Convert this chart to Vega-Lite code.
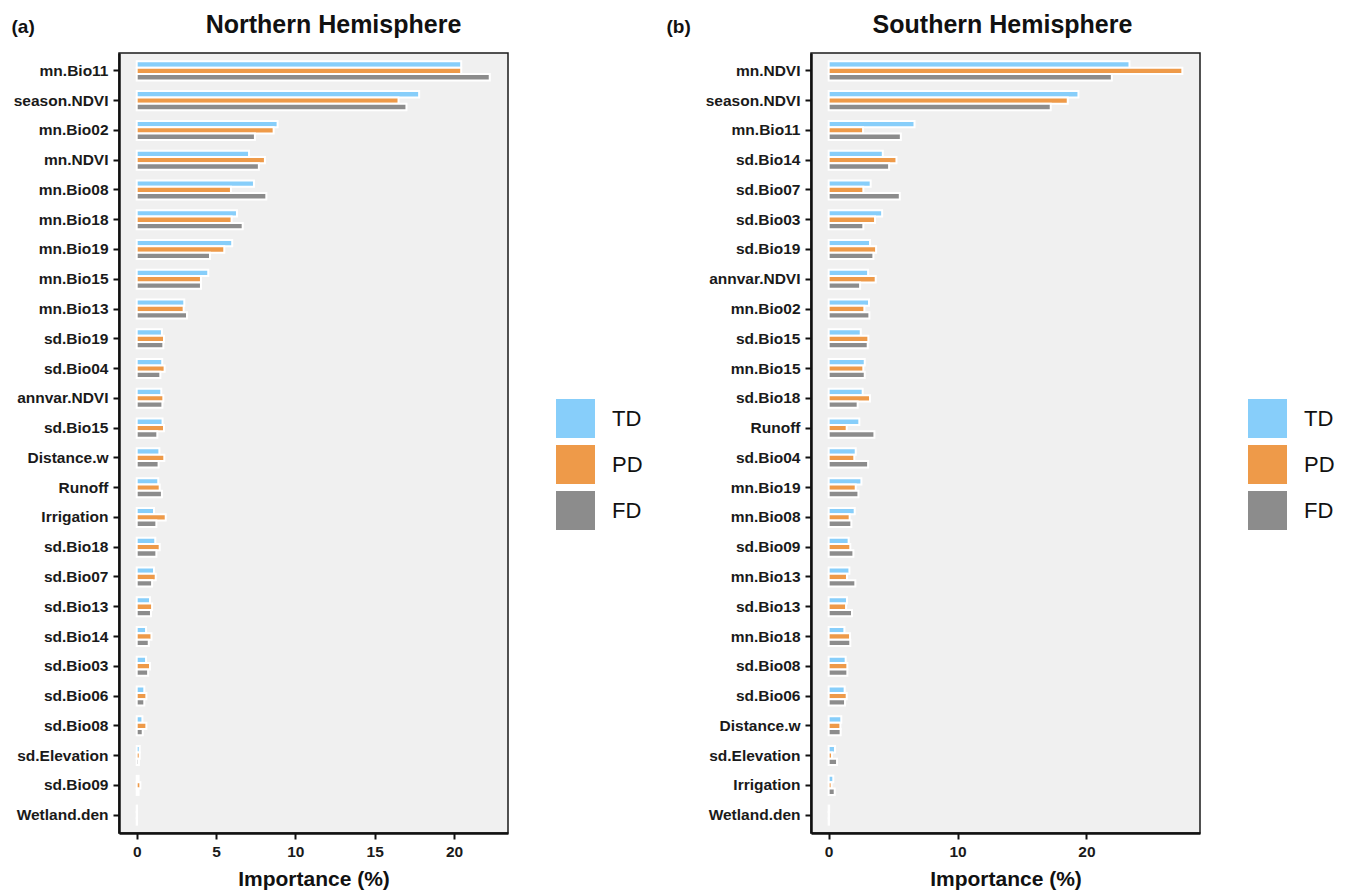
{
  "$schema": "https://vega.github.io/schema/vega-lite/v6.json",
  "autosize": {"type": "pad"},
  "padding": {"left": 10, "top": 12, "right": 0, "bottom": 0},
  "background": "white",
  "config": {
    "font": "Liberation Sans",
    "view": {"stroke": "#1a1a1a", "strokeWidth": 1.5, "fill": "#f0f0f0"},
    "axis": {"grid": false, "domainColor": "#111111", "domainWidth": 2.5, "tickColor": "#111111", "tickWidth": 2, "tickSize": 6, "labelColor": "#1a1a1a", "labelFontWeight": "bold", "labelFontSize": 15.5, "labelFont": "Liberation Sans", "titleFont": "Liberation Sans", "titleColor": "#111111"},
    "title": {"fontSize": 25, "fontWeight": "bold", "anchor": "middle", "frame": "group", "baseline": "alphabetic", "offset": -21, "color": "#111111", "font": "Liberation Sans"},
    "legend": {"labelFont": "Liberation Sans"}
  },
  "datasets": {
    "north": [
      {"v":"mn.Bio11","g":"TD","i":20.45},{"v":"mn.Bio11","g":"PD","i":20.45},{"v":"mn.Bio11","g":"FD","i":22.25},
      {"v":"season.NDVI","g":"TD","i":17.8},{"v":"season.NDVI","g":"PD","i":16.5},{"v":"season.NDVI","g":"FD","i":17.0},
      {"v":"mn.Bio02","g":"TD","i":8.88},{"v":"mn.Bio02","g":"PD","i":8.63},{"v":"mn.Bio02","g":"FD","i":7.45},
      {"v":"mn.NDVI","g":"TD","i":7.08},{"v":"mn.NDVI","g":"PD","i":8.08},{"v":"mn.NDVI","g":"FD","i":7.7},
      {"v":"mn.Bio08","g":"TD","i":7.39},{"v":"mn.Bio08","g":"PD","i":5.94},{"v":"mn.Bio08","g":"FD","i":8.17},
      {"v":"mn.Bio18","g":"TD","i":6.32},{"v":"mn.Bio18","g":"PD","i":5.98},{"v":"mn.Bio18","g":"FD","i":6.68},
      {"v":"mn.Bio19","g":"TD","i":6.02},{"v":"mn.Bio19","g":"PD","i":5.52},{"v":"mn.Bio19","g":"FD","i":4.62},
      {"v":"mn.Bio15","g":"TD","i":4.51},{"v":"mn.Bio15","g":"PD","i":4.05},{"v":"mn.Bio15","g":"FD","i":4.05},
      {"v":"mn.Bio13","g":"TD","i":3.0},{"v":"mn.Bio13","g":"PD","i":2.96},{"v":"mn.Bio13","g":"FD","i":3.17},
      {"v":"sd.Bio19","g":"TD","i":1.59},{"v":"sd.Bio19","g":"PD","i":1.72},{"v":"sd.Bio19","g":"FD","i":1.68},
      {"v":"sd.Bio04","g":"TD","i":1.61},{"v":"sd.Bio04","g":"PD","i":1.76},{"v":"sd.Bio04","g":"FD","i":1.49},
      {"v":"annvar.NDVI","g":"TD","i":1.55},{"v":"annvar.NDVI","g":"PD","i":1.68},{"v":"annvar.NDVI","g":"FD","i":1.62},
      {"v":"sd.Bio15","g":"TD","i":1.63},{"v":"sd.Bio15","g":"PD","i":1.72},{"v":"sd.Bio15","g":"FD","i":1.30},
      {"v":"Distance.w","g":"TD","i":1.43},{"v":"Distance.w","g":"PD","i":1.74},{"v":"Distance.w","g":"FD","i":1.38},
      {"v":"Runoff","g":"TD","i":1.36},{"v":"Runoff","g":"PD","i":1.45},{"v":"Runoff","g":"FD","i":1.59},
      {"v":"Irrigation","g":"TD","i":1.09},{"v":"Irrigation","g":"PD","i":1.83},{"v":"Irrigation","g":"FD","i":1.24},
      {"v":"sd.Bio18","g":"TD","i":1.17},{"v":"sd.Bio18","g":"PD","i":1.45},{"v":"sd.Bio18","g":"FD","i":1.24},
      {"v":"sd.Bio07","g":"TD","i":1.09},{"v":"sd.Bio07","g":"PD","i":1.2},{"v":"sd.Bio07","g":"FD","i":0.97},
      {"v":"sd.Bio13","g":"TD","i":0.84},{"v":"sd.Bio13","g":"PD","i":0.97},{"v":"sd.Bio13","g":"FD","i":0.9},
      {"v":"sd.Bio14","g":"TD","i":0.59},{"v":"sd.Bio14","g":"PD","i":0.93},{"v":"sd.Bio14","g":"FD","i":0.76},
      {"v":"sd.Bio03","g":"TD","i":0.59},{"v":"sd.Bio03","g":"PD","i":0.84},{"v":"sd.Bio03","g":"FD","i":0.72},
      {"v":"sd.Bio06","g":"TD","i":0.48},{"v":"sd.Bio06","g":"PD","i":0.61},{"v":"sd.Bio06","g":"FD","i":0.48},
      {"v":"sd.Bio08","g":"TD","i":0.36},{"v":"sd.Bio08","g":"PD","i":0.61},{"v":"sd.Bio08","g":"FD","i":0.38},
      {"v":"sd.Elevation","g":"TD","i":0.19},{"v":"sd.Elevation","g":"PD","i":0.19},{"v":"sd.Elevation","g":"FD","i":0.14},
      {"v":"sd.Bio09","g":"TD","i":0.12},{"v":"sd.Bio09","g":"PD","i":0.23},{"v":"sd.Bio09","g":"FD","i":0.12},
      {"v":"Wetland.den","g":"TD","i":0.02},{"v":"Wetland.den","g":"PD","i":0.02},{"v":"Wetland.den","g":"FD","i":0.02}
    ],
    "south": [
      {"v":"mn.NDVI","g":"TD","i":23.34},{"v":"mn.NDVI","g":"PD","i":27.44},{"v":"mn.NDVI","g":"FD","i":21.97},
      {"v":"season.NDVI","g":"TD","i":19.38},{"v":"season.NDVI","g":"PD","i":18.55},{"v":"season.NDVI","g":"FD","i":17.23},
      {"v":"mn.Bio11","g":"TD","i":6.66},{"v":"mn.Bio11","g":"PD","i":2.67},{"v":"mn.Bio11","g":"FD","i":5.6},
      {"v":"sd.Bio14","g":"TD","i":4.2},{"v":"sd.Bio14","g":"PD","i":5.26},{"v":"sd.Bio14","g":"FD","i":4.69},
      {"v":"sd.Bio07","g":"TD","i":3.26},{"v":"sd.Bio07","g":"PD","i":2.69},{"v":"sd.Bio07","g":"FD","i":5.52},
      {"v":"sd.Bio03","g":"TD","i":4.15},{"v":"sd.Bio03","g":"PD","i":3.6},{"v":"sd.Bio03","g":"FD","i":2.69},
      {"v":"sd.Bio19","g":"TD","i":3.21},{"v":"sd.Bio19","g":"PD","i":3.68},{"v":"sd.Bio19","g":"FD","i":3.47},
      {"v":"annvar.NDVI","g":"TD","i":3.06},{"v":"annvar.NDVI","g":"PD","i":3.65},{"v":"annvar.NDVI","g":"FD","i":2.44},
      {"v":"mn.Bio02","g":"TD","i":3.13},{"v":"mn.Bio02","g":"PD","i":2.77},{"v":"mn.Bio02","g":"FD","i":3.16},
      {"v":"sd.Bio15","g":"TD","i":2.49},{"v":"sd.Bio15","g":"PD","i":3.08},{"v":"sd.Bio15","g":"FD","i":3.03},
      {"v":"mn.Bio15","g":"TD","i":2.8},{"v":"mn.Bio15","g":"PD","i":2.69},{"v":"mn.Bio15","g":"FD","i":2.8},
      {"v":"sd.Bio18","g":"TD","i":2.64},{"v":"sd.Bio18","g":"PD","i":3.21},{"v":"sd.Bio18","g":"FD","i":2.25},
      {"v":"Runoff","g":"TD","i":2.38},{"v":"Runoff","g":"PD","i":1.4},{"v":"Runoff","g":"FD","i":3.55},
      {"v":"sd.Bio04","g":"TD","i":2.1},{"v":"sd.Bio04","g":"PD","i":1.99},{"v":"sd.Bio04","g":"FD","i":3.06},
      {"v":"mn.Bio19","g":"TD","i":2.54},{"v":"mn.Bio19","g":"PD","i":2.1},{"v":"mn.Bio19","g":"FD","i":2.31},
      {"v":"mn.Bio08","g":"TD","i":2.02},{"v":"mn.Bio08","g":"PD","i":1.63},{"v":"mn.Bio08","g":"FD","i":1.76},
      {"v":"sd.Bio09","g":"TD","i":1.55},{"v":"sd.Bio09","g":"PD","i":1.68},{"v":"sd.Bio09","g":"FD","i":1.92},
      {"v":"mn.Bio13","g":"TD","i":1.61},{"v":"mn.Bio13","g":"PD","i":1.42},{"v":"mn.Bio13","g":"FD","i":2.07},
      {"v":"sd.Bio13","g":"TD","i":1.42},{"v":"sd.Bio13","g":"PD","i":1.35},{"v":"sd.Bio13","g":"FD","i":1.81},
      {"v":"mn.Bio18","g":"TD","i":1.22},{"v":"mn.Bio18","g":"PD","i":1.66},{"v":"mn.Bio18","g":"FD","i":1.68},
      {"v":"sd.Bio08","g":"TD","i":1.32},{"v":"sd.Bio08","g":"PD","i":1.45},{"v":"sd.Bio08","g":"FD","i":1.45},
      {"v":"sd.Bio06","g":"TD","i":1.24},{"v":"sd.Bio06","g":"PD","i":1.4},{"v":"sd.Bio06","g":"FD","i":1.27},
      {"v":"Distance.w","g":"TD","i":0.98},{"v":"Distance.w","g":"PD","i":0.91},{"v":"Distance.w","g":"FD","i":0.93},
      {"v":"sd.Elevation","g":"TD","i":0.49},{"v":"sd.Elevation","g":"PD","i":0.26},{"v":"sd.Elevation","g":"FD","i":0.65},
      {"v":"Irrigation","g":"TD","i":0.36},{"v":"Irrigation","g":"PD","i":0.23},{"v":"Irrigation","g":"FD","i":0.47},
      {"v":"Wetland.den","g":"TD","i":0.04},{"v":"Wetland.den","g":"PD","i":0.03},{"v":"Wetland.den","g":"FD","i":0.03}
    ]
  },
  "spacing": 303,
  "bounds": "flush",
  "resolve": {"scale": {"color": "independent", "x": "independent", "y": "independent", "yOffset": "independent"}, "legend": {"color": "independent"}},
  "hconcat": [
    {
      "width": 389, "height": 780,
      "data": {"name": "north"},
      "title": {"text": "Northern Hemisphere", "dx": 20},
      "mark": {"type": "bar", "stroke": "white", "strokeWidth": 2},
      "encoding": {
        "y": {"field": "v", "type": "nominal",
          "sort": ["mn.Bio11","season.NDVI","mn.Bio02","mn.NDVI","mn.Bio08","mn.Bio18","mn.Bio19","mn.Bio15","mn.Bio13","sd.Bio19","sd.Bio04","annvar.NDVI","sd.Bio15","Distance.w","Runoff","Irrigation","sd.Bio18","sd.Bio07","sd.Bio13","sd.Bio14","sd.Bio03","sd.Bio06","sd.Bio08","sd.Elevation","sd.Bio09","Wetland.den"],
          "scale": {"paddingInner": 0, "paddingOuter": 0.1},
          "axis": {"title": "(a)", "titleAngle": 0, "titleX": -108, "titleY": -21, "titleAlign": "left", "titleBaseline": "alphabetic", "titleFontSize": 19, "titleFontWeight": "bold", "labelPadding": 5}},
        "yOffset": {"field": "g", "type": "nominal", "sort": ["TD","PD","FD"], "scale": {"paddingInner": 0, "paddingOuter": 0.845}},
        "x": {"field": "i", "type": "quantitative",
          "scale": {"domain": [-1.115, 23.4], "nice": false, "zero": false},
          "axis": {"values": [0,5,10,15,20], "title": "Importance (%)", "titleFontSize": 21, "titleFontWeight": "bold", "titlePadding": 9, "labelPadding": 5}},
        "x2": {"datum": 0},
        "color": {"field": "g", "type": "nominal", "sort": ["TD","PD","FD"],
          "scale": {"domain": ["TD","PD","FD"], "range": ["#87CEFA","#EE9A49","#8C8C8C"]},
          "legend": {"title": null, "orient": "none", "legendX": 437, "legendY": 346, "symbolType": "square", "symbolSize": 1521, "symbolStrokeWidth": 0, "symbolOpacity": 1, "labelFontSize": 22, "labelFontWeight": "normal", "labelColor": "#111111", "labelOffset": 17, "rowPadding": 7}}
      }
    },
    {
      "width": 389, "height": 780,
      "data": {"name": "south"},
      "title": {"text": "Southern Hemisphere", "dx": -3},
      "mark": {"type": "bar", "stroke": "white", "strokeWidth": 2},
      "encoding": {
        "y": {"field": "v", "type": "nominal",
          "sort": ["mn.NDVI","season.NDVI","mn.Bio11","sd.Bio14","sd.Bio07","sd.Bio03","sd.Bio19","annvar.NDVI","mn.Bio02","sd.Bio15","mn.Bio15","sd.Bio18","Runoff","sd.Bio04","mn.Bio19","mn.Bio08","sd.Bio09","mn.Bio13","sd.Bio13","mn.Bio18","sd.Bio08","sd.Bio06","Distance.w","sd.Elevation","Irrigation","Wetland.den"],
          "scale": {"paddingInner": 0, "paddingOuter": 0.1},
          "axis": {"title": "(b)", "titleAngle": 0, "titleX": -145, "titleY": -21, "titleAlign": "left", "titleBaseline": "alphabetic", "titleFontSize": 19, "titleFontWeight": "bold", "labelPadding": 5}},
        "yOffset": {"field": "g", "type": "nominal", "sort": ["TD","PD","FD"], "scale": {"paddingInner": 0, "paddingOuter": 0.845}},
        "x": {"field": "i", "type": "quantitative",
          "scale": {"domain": [-1.37, 28.81], "nice": false, "zero": false},
          "axis": {"values": [0,10,20], "title": "Importance (%)", "titleFontSize": 21, "titleFontWeight": "bold", "titlePadding": 9, "labelPadding": 5}},
        "x2": {"datum": 0},
        "color": {"field": "g", "type": "nominal", "sort": ["TD","PD","FD"],
          "scale": {"domain": ["TD","PD","FD"], "range": ["#87CEFA","#EE9A49","#8C8C8C"]},
          "legend": {"title": null, "orient": "none", "legendX": 437, "legendY": 346, "symbolType": "square", "symbolSize": 1521, "symbolStrokeWidth": 0, "symbolOpacity": 1, "labelFontSize": 22, "labelFontWeight": "normal", "labelColor": "#111111", "labelOffset": 17, "rowPadding": 7}}
      }
    }
  ]
}
